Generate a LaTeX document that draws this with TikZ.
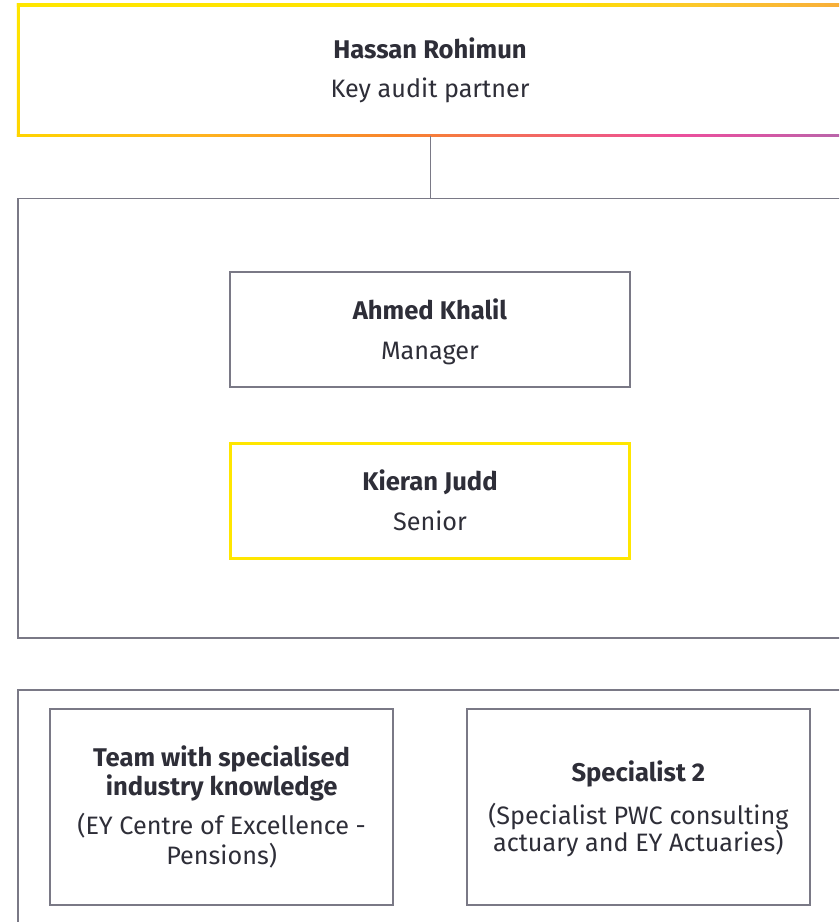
\documentclass[tikz,border=0pt]{standalone}
\usepackage{fontspec}
\setmainfont{Fira Sans}
\usetikzlibrary{positioning}
\definecolor{eyyellow}{HTML}{FFE600}
\definecolor{eygray}{HTML}{7A7986}
\definecolor{eytext}{HTML}{2E2E38}
\definecolor{gA}{HTML}{FFD400}
\definecolor{gB}{HTML}{FFB41E}
\definecolor{gC}{HTML}{F8842C}
\definecolor{gD}{HTML}{F1626E}
\definecolor{gE}{HTML}{EC4F9C}
\definecolor{gF}{HTML}{D656A4}
\definecolor{gG}{HTML}{B866AA}
\definecolor{tA}{HTML}{FFE600}
\definecolor{tB}{HTML}{FFE000}
\definecolor{tC}{HTML}{FCC82A}
\definecolor{tD}{HTML}{F8AE3A}
\pgfdeclarehorizontalshading{ybottom}{100bp}{color(0bp)=(gA); color(25bp)=(gA); color(36bp)=(gB); color(48bp)=(gC); color(58bp)=(gD); color(65bp)=(gE); color(70bp)=(gF); color(75bp)=(gG); color(100bp)=(gG)}
\pgfdeclarehorizontalshading{ytop}{100bp}{color(0bp)=(tA); color(25bp)=(tA); color(58bp)=(tB); color(66bp)=(tC); color(75bp)=(tD); color(100bp)=(tD)}
\tikzset{
  graybox/.style={draw=eygray, line width=1.8pt, inner sep=0pt, fill=none},
  yellowbox/.style={draw=eyyellow, line width=2.7pt, inner sep=0pt},
  plainbox/.style={inner sep=0pt},
  conn/.style={draw=eygray, line width=1pt},
  nametxt/.style={font=\fontsize{25.6}{30}\selectfont\bfseries, text=eytext, inner sep=0pt, anchor=base},
  roletxt/.style={font=\fontsize{25.2}{30}\selectfont, text=eytext, inner sep=0pt, anchor=base},
}
\begin{document}
\begin{tikzpicture}[x=1pt, y=-1pt]
\useasboundingbox (0,0) rectangle (839,922);
\clip (0,0) rectangle (839,922);
\fill[white] (0,0) rectangle (839,922);
% top box
\node[plainbox, minimum width=823pt, minimum height=130pt] (partner) at (430,70.3) {};
\shade[shading=ytop] ([xshift=-1.35pt,yshift=1.35pt]partner.north west) rectangle ([xshift=1.35pt,yshift=-1.35pt]partner.north east);
\shade[shading=ybottom] ([xshift=-1.35pt,yshift=1.35pt]partner.south west) rectangle ([xshift=1.35pt,yshift=-1.35pt]partner.south east);
\shade[top color=eyyellow, bottom color=gA] ([xshift=-1.35pt,yshift=1.35pt]partner.north west) rectangle ([xshift=1.35pt,yshift=-1.35pt]partner.south west);
\node[nametxt] (hname) at (430,58.3) {Hassan Rohimun};
\node[roletxt] (hrole) at (430,97.5) {Key audit partner};
% middle box
\node[graybox, minimum width=823.4pt, minimum height=439.2pt] (team) at (430,418.1) {};
\draw[conn] (partner.south) -- (team.north);
\node[graybox, minimum width=399.4pt, minimum height=115pt] (manager) at (429.9,329.8) {};
\node[nametxt] (mname) at (429.9,319.3) {Ahmed Khalil};
\node[roletxt] (mrole) at (429.9,359.3) {Manager};
\node[yellowbox, minimum width=399.6pt, minimum height=115pt] (senior) at (430,500.8) {};
\node[nametxt] (sname) at (430,490) {Kieran Judd};
\node[roletxt] (srole) at (430,530) {Senior};
% bottom box
\node[graybox, minimum width=823.4pt, minimum height=236.3pt] (specs) at (430,807.85) {};
\node[graybox, minimum width=342.7pt, minimum height=196.6pt] (spec1) at (221.65,807) {};
\node[nametxt] (s1a) at (221.65,766.7) {Team with specialised};
\node[nametxt] (s1b) at (221.65,795) {industry knowledge};
\node[roletxt] (s1c) at (221.65,834) {(EY Centre of Excellence -};
\node[roletxt] (s1d) at (221.65,864) {Pensions)};
\node[graybox, minimum width=342.7pt, minimum height=196.6pt] (spec2) at (638.35,807) {};
\node[nametxt] (s2a) at (638.35,781.7) {Specialist 2};
\node[roletxt] (s2b) at (638.35,824) {(Specialist PWC consulting};
\node[roletxt] (s2c) at (638.35,851.7) {actuary and EY Actuaries)};
\end{tikzpicture}
\end{document}
